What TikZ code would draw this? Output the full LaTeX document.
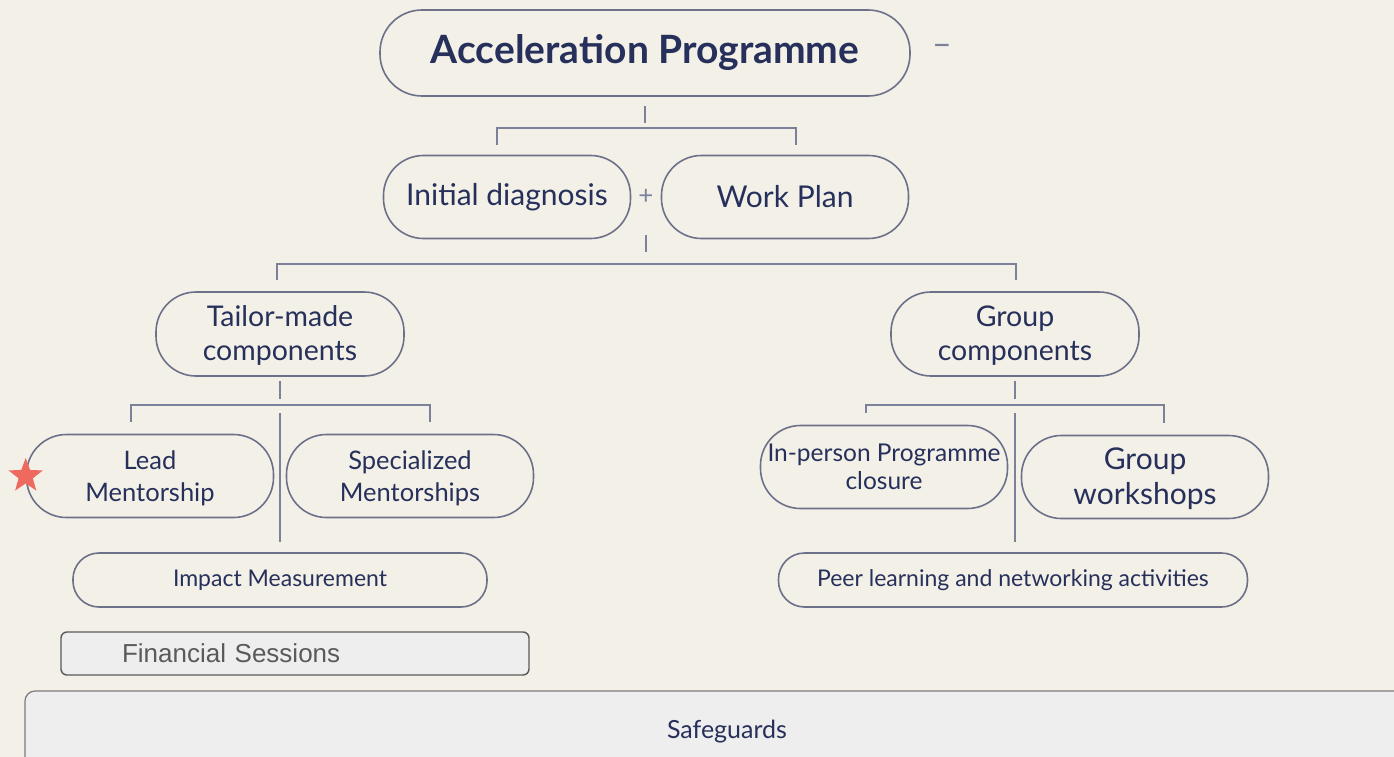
\documentclass[tikz,border=0pt]{standalone}
\usepackage{fontspec}
\setmainfont{Lato}
\newfontfamily\arialfont{Liberation Sans}
\usepackage{tikz}
\usetikzlibrary{calc,shapes.geometric}
\definecolor{paper}{HTML}{F3F0E8}
\definecolor{ink}{HTML}{26305B}
\definecolor{rim}{HTML}{6C7189}
\definecolor{wire}{HTML}{7C8199}
\definecolor{boxgray}{HTML}{EEEEEE}
\definecolor{boxrim}{HTML}{5A5A5A}
\definecolor{starred}{HTML}{EE6A5F}
\newcommand{\fs}[2]{\fontsize{#1}{#2}\selectfont}
\tikzset{
  pill/.style={draw=rim, line width=1.6pt, text=ink, align=center, rounded corners=40pt,
    minimum width=247pt, minimum height=83pt, inner sep=0pt},
  bar/.style={draw=rim, line width=1.6pt, text=ink, rounded corners=26pt,
    minimum height=54pt, inner sep=0pt},
  link/.style={draw=wire, line width=1.8pt},
  sign/.style={text=wire, inner sep=0pt}
}
\begin{document}
\begin{tikzpicture}[x=1pt, y=-1pt]
  \useasboundingbox[fill=paper] (0,0) rectangle (1394,757);

  % top level
  \node[pill, minimum width=530pt, minimum height=86pt, rounded corners=42pt,
    font=\fs{39}{44}\bfseries] (accel) at (645,53) {Acceleration Programme};
  \node[sign, font=\fs{34}{36}] (minus) at (942,50) {--};

  \node[pill, font=\fs{30}{36}] (diag) at (507,197) {Initial diagnosis};
  \node[pill, font=\fs{30}{36}] (plan) at (785,197) {Work Plan};
  \node[sign, font=\fs{26}{30}] (plus) at ($(diag.east)!0.5!(plan.west)$) {+};

  \draw[link] ([yshift=-9pt]accel.south) -- ++(0,-17pt);
  \draw[link] ([xshift=-10pt,yshift=10pt]diag.north) |- ([yshift=-31pt]accel.south)
    -| ([xshift=11pt,yshift=10pt]plan.north);

  % second level
  \node[pill, minimum width=248pt, minimum height=84pt, font=\fs{28.5}{34}] (tailor) at (280,334)
    {\strut Tailor-made\\components};
  \node[pill, minimum width=248pt, minimum height=84pt, font=\fs{28.5}{34}] (group) at (1015,334)
    {\strut Group\\components};

  \draw[link] ([yshift=-38pt]plus.center) -- ++(0,-17pt);
  \draw[link] ([xshift=-3pt,yshift=11pt]tailor.north) |- ([yshift=-67pt]plus.center)
    -| ([xshift=1pt,yshift=11pt]group.north);

  % tailor-made branch
  \node[pill, font=\fs{25.5}{32}] (lead) at (150,476) {\strut Lead\\Mentorship};
  \node[pill, font=\fs{25.5}{32}] (spec) at (410,476) {\strut Specialized\\Mentorships};
  \node[star, star points=5, star point ratio=2.4, fill=starred, minimum size=36pt, inner sep=0pt]
    (star) at (lead.west) {};
  \node[bar, minimum width=414pt, font=\fs{23}{28}] (impact) at (280,580) {Impact Measurement};

  \draw[link] ([yshift=-4pt]tailor.south) -- ++(0,-18pt);
  \draw[link] ([xshift=-19pt,yshift=12pt]lead.north) |- ([yshift=-28pt]tailor.south)
    -| ([xshift=20pt,yshift=12pt]spec.north);
  \draw[link] ([yshift=-36pt]tailor.south) -- ([yshift=10pt]impact.north);

  % group branch
  \node[pill, font=\fs{24.5}{28}] (inperson) at (884,467) {In-person Programme\\closure};
  \node[pill, font=\fs{30}{35}] (workshop) at (1145,477) {\strut Group\\workshops};
  \node[bar, minimum width=469pt, font=\fs{23}{28}] (peer) at (1013,580)
    {Peer learning and networking activities};

  \draw[link] ([yshift=-4pt]group.south) -- ++(0,-18pt);
  \draw[link] ([xshift=-18pt,yshift=12pt]inperson.north) |- ([yshift=-28pt]group.south)
    -| ([xshift=19pt,yshift=12pt]workshop.north);
  \draw[link] ([yshift=-36pt]group.south) -- ([yshift=10pt]group.south |- peer.north);

  % bottom boxes
  \node[draw=boxrim, fill=boxgray, line width=1.4pt, rounded corners=6pt, text=boxrim,
    align=left, text width=346pt, inner xsep=61pt, inner ysep=0pt, minimum height=43pt,
    font=\arialfont\fs{26}{30}] (finance) at (295,653.5) {Financial Sessions};
  \node[draw=boxrim!80, fill=boxgray, line width=1.2pt, rounded corners=10pt,
    minimum width=1380pt, minimum height=80pt, inner sep=0pt]
    (safe) at (715,731) {};
  \node[text=ink, inner sep=0pt, font=\fs{25}{28}] (safetext) at (727,732) {Safeguards};
\end{tikzpicture}
\end{document}
